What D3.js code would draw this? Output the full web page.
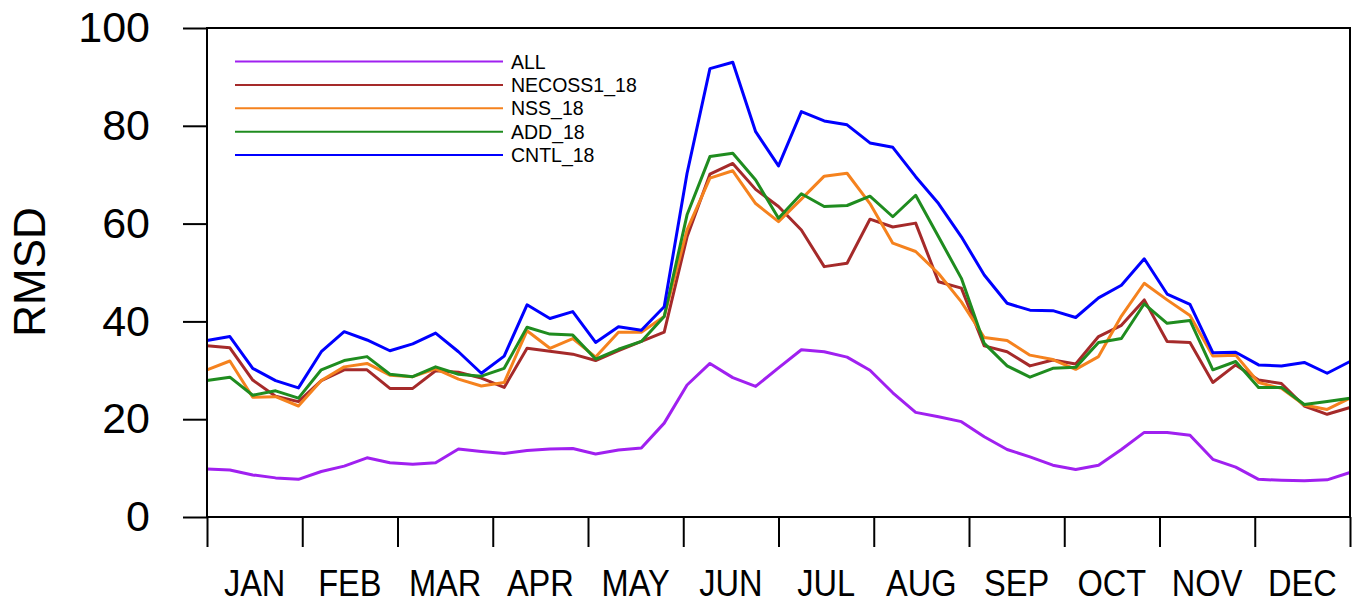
<!DOCTYPE html>
<html>
<head>
<meta charset="utf-8">
<script src="https://cdn.jsdelivr.net/npm/d3@7"></script>
<style>
  body { margin: 0; background: #fff; }
  svg { display: block; font-family: "Liberation Sans", Arial, Helvetica, sans-serif; }
  .line { fill: none; stroke-width: 3; stroke-linejoin: round; }
  .axis path, .axis line { stroke: #000; stroke-width: 2; }
</style>
</head>
<body>
<div id="rmsd-chart"></div>
<script>
const margin_rmsd = {top: 28, right: 7, bottom: 87, left: 207};
const width_rmsd = 1357 - margin_rmsd.left - margin_rmsd.right;
const height_rmsd = 604 - margin_rmsd.top - margin_rmsd.bottom;

// Month labels and y ticks
const months = ['JAN', 'FEB', 'MAR', 'APR', 'MAY', 'JUN', 'JUL', 'AUG', 'SEP', 'OCT', 'NOV', 'DEC'];
const y_ticks = [0, 20, 40, 60, 80, 100];

// Series values (51 points over the year)
const all_values = [9.8, 9.6, 8.6, 8.0, 7.7, 9.3, 10.4, 12.1, 11.1, 10.8, 11.1, 13.9, 13.4, 13.0, 13.6, 13.9, 14.0,
  12.9, 13.7, 14.1, 19.2, 27.0, 31.4, 28.5, 26.7, 30.5, 34.2, 33.8, 32.7, 30.0, 25.4, 21.4, 20.5, 19.5, 16.4,
  13.8, 12.3, 10.6, 9.7, 10.6, 13.8, 17.3, 17.3, 16.7, 11.8, 10.2, 7.7, 7.5, 7.4, 7.6, 9.1];
const necoss1_values = [35.0, 34.6, 28.0, 24.7, 23.6, 27.9, 30.1, 30.1, 26.3, 26.3, 29.9, 29.6, 28.4, 26.5, 34.5,
  33.9, 33.3, 32.0, 34.0, 35.9, 37.8, 57.3, 70.1, 72.3, 67.0, 63.5, 58.7, 51.2, 51.9, 60.9, 59.3, 60.1, 48.1,
  46.8, 35.0, 33.8, 30.9, 32.1, 31.3, 36.9, 39.2, 44.4, 35.9, 35.7, 27.5, 31.1, 28.0, 27.3, 22.7, 21.0, 22.4];
const nss_values = [30.1, 31.9, 24.5, 24.6, 22.7, 27.9, 30.7, 31.4, 29.0, 28.7, 30.3, 28.2, 26.8, 27.5, 38.1,
  34.5, 36.5, 32.7, 37.8, 37.8, 41.0, 58.7, 69.3, 70.8, 64.1, 60.4, 65.0, 69.7, 70.3, 64.1, 56.0, 54.3, 49.8,
  44.0, 36.7, 36.1, 33.1, 32.2, 30.2, 32.8, 41.1, 47.8, 44.4, 41.2, 32.9, 33.1, 27.5, 26.3, 22.9, 22.0, 24.3];
const add_values = [27.9, 28.6, 24.9, 25.8, 24.3, 30.1, 32.0, 32.8, 29.2, 28.7, 30.7, 29.2, 28.8, 30.4, 38.8,
  37.4, 37.2, 32.3, 34.3, 35.9, 41.0, 61.8, 73.7, 74.4, 68.9, 61.1, 66.1, 63.5, 63.7, 65.6, 61.4, 65.8, 57.3,
  48.8, 35.5, 30.9, 28.6, 30.4, 30.6, 35.7, 36.5, 43.6, 39.6, 40.2, 30.1, 31.8, 26.5, 26.5, 23.0, 23.6, 24.3];
const cntl_values = [36.1, 36.9, 30.4, 27.9, 26.4, 33.8, 37.9, 36.2, 34.0, 35.4, 37.6, 33.8, 29.4, 32.9, 43.4,
  40.6, 42.0, 35.7, 38.9, 38.2, 43.0, 70.3, 91.7, 93.0, 78.8, 71.8, 82.9, 81.0, 80.2, 76.5, 75.6, 69.6, 64.1,
  57.3, 49.5, 43.7, 42.3, 42.2, 40.8, 44.8, 47.4, 52.8, 45.6, 43.5, 33.6, 33.7, 31.1, 30.9, 31.6, 29.4, 31.8];

const series_names = ['ALL', 'NECOSS1_18', 'NSS_18', 'ADD_18', 'CNTL_18'];
const series_colors = ['#a020f0', '#a52a2a', '#f5821e', '#1f8c1f', '#0000ff'];
const series = [all_values, necoss1_values, nss_values, add_values, cntl_values].map((v, i) => ({
  name: series_names[i], color: series_colors[i], values: v
}));

// Scales
let x_scale = d3.scaleLinear().domain([0, all_values.length - 1]).range([0, width_rmsd]);
let x_month_ticks = d3.scaleLinear().domain([0, 12]).range([0, width_rmsd]);
let x_month_band = d3.scaleBand().domain(months).range([0, width_rmsd]).padding(0);
let y_scale = d3.scaleLinear().domain([0, 100]).range([height_rmsd, 0]);

let line_rmsd = d3.line()
  .x((d, i) => x_scale(i))
  .y(d => y_scale(d));

let svg = d3.select('#rmsd-chart')
  .append('svg')
    .attr('width', 1357)
    .attr('height', 604)
  .append('g')
    .attr('transform', 'translate(' + margin_rmsd.left + ',' + margin_rmsd.top + ')');

// Lines
svg.selectAll('.line')
  .data(series)
  .enter().append('path')
    .attr('class', 'line')
    .attr('stroke', d => d.color)
    .attr('d', d => line_rmsd(d.values));

// Frame
svg.append('rect')
  .attr('width', width_rmsd)
  .attr('height', height_rmsd)
  .attr('fill', 'none')
  .attr('stroke', '#000')
  .attr('stroke-width', 2);

// Y axis
let y_axis = svg.append('g')
  .attr('class', 'axis axis-y')
  .call(d3.axisLeft(y_scale).tickValues(y_ticks).tickSize(24).tickPadding(33).tickSizeOuter(0));
y_axis.select('.domain').remove();
y_axis.selectAll('text').attr('font-size', 43).attr('fill', '#000');

// X axis: month ticks
let x_axis = svg.append('g')
  .attr('class', 'axis axis-x')
  .attr('transform', 'translate(0,' + height_rmsd + ')')
  .call(d3.axisBottom(x_month_ticks).ticks(12).tickSize(30).tickFormat('').tickSizeOuter(0));
x_axis.select('.domain').remove();

// Month labels
svg.append('g')
  .selectAll('text')
  .data(months)
  .enter().append('text')
    .attr('transform', d => 'translate(' + (x_month_band(d) + x_month_band.bandwidth() / 2) + ',' + (height_rmsd + 79) + ') scale(0.88,1)')
    .attr('text-anchor', 'middle')
    .attr('font-size', 37)
    .text(d => d);

// Y label
svg.append('text')
  .attr('transform', 'translate(' + (45 - margin_rmsd.left) + ',' + (272 - margin_rmsd.top) + ') rotate(-90)')
  .attr('text-anchor', 'middle')
  .attr('font-size', 44)
  .text('RMSD');

// Legend
let legend = svg.append('g')
  .attr('class', 'legend')
  .attr('transform', 'translate(' + (235 - margin_rmsd.left) + ',' + (61.5 - margin_rmsd.top) + ')');
let legend_items = legend.selectAll('g')
  .data(series)
  .enter().append('g')
    .attr('transform', (d, i) => 'translate(0,' + (i * 23.4) + ')');
legend_items.append('line')
  .attr('x1', 0).attr('x2', 268)
  .attr('stroke', d => d.color)
  .attr('stroke-width', 2);
legend_items.append('text')
  .attr('x', 276)
  .attr('dy', '0.36em')
  .attr('font-size', 19.5)
  .text(d => d.name);
</script>
</body>
</html>
